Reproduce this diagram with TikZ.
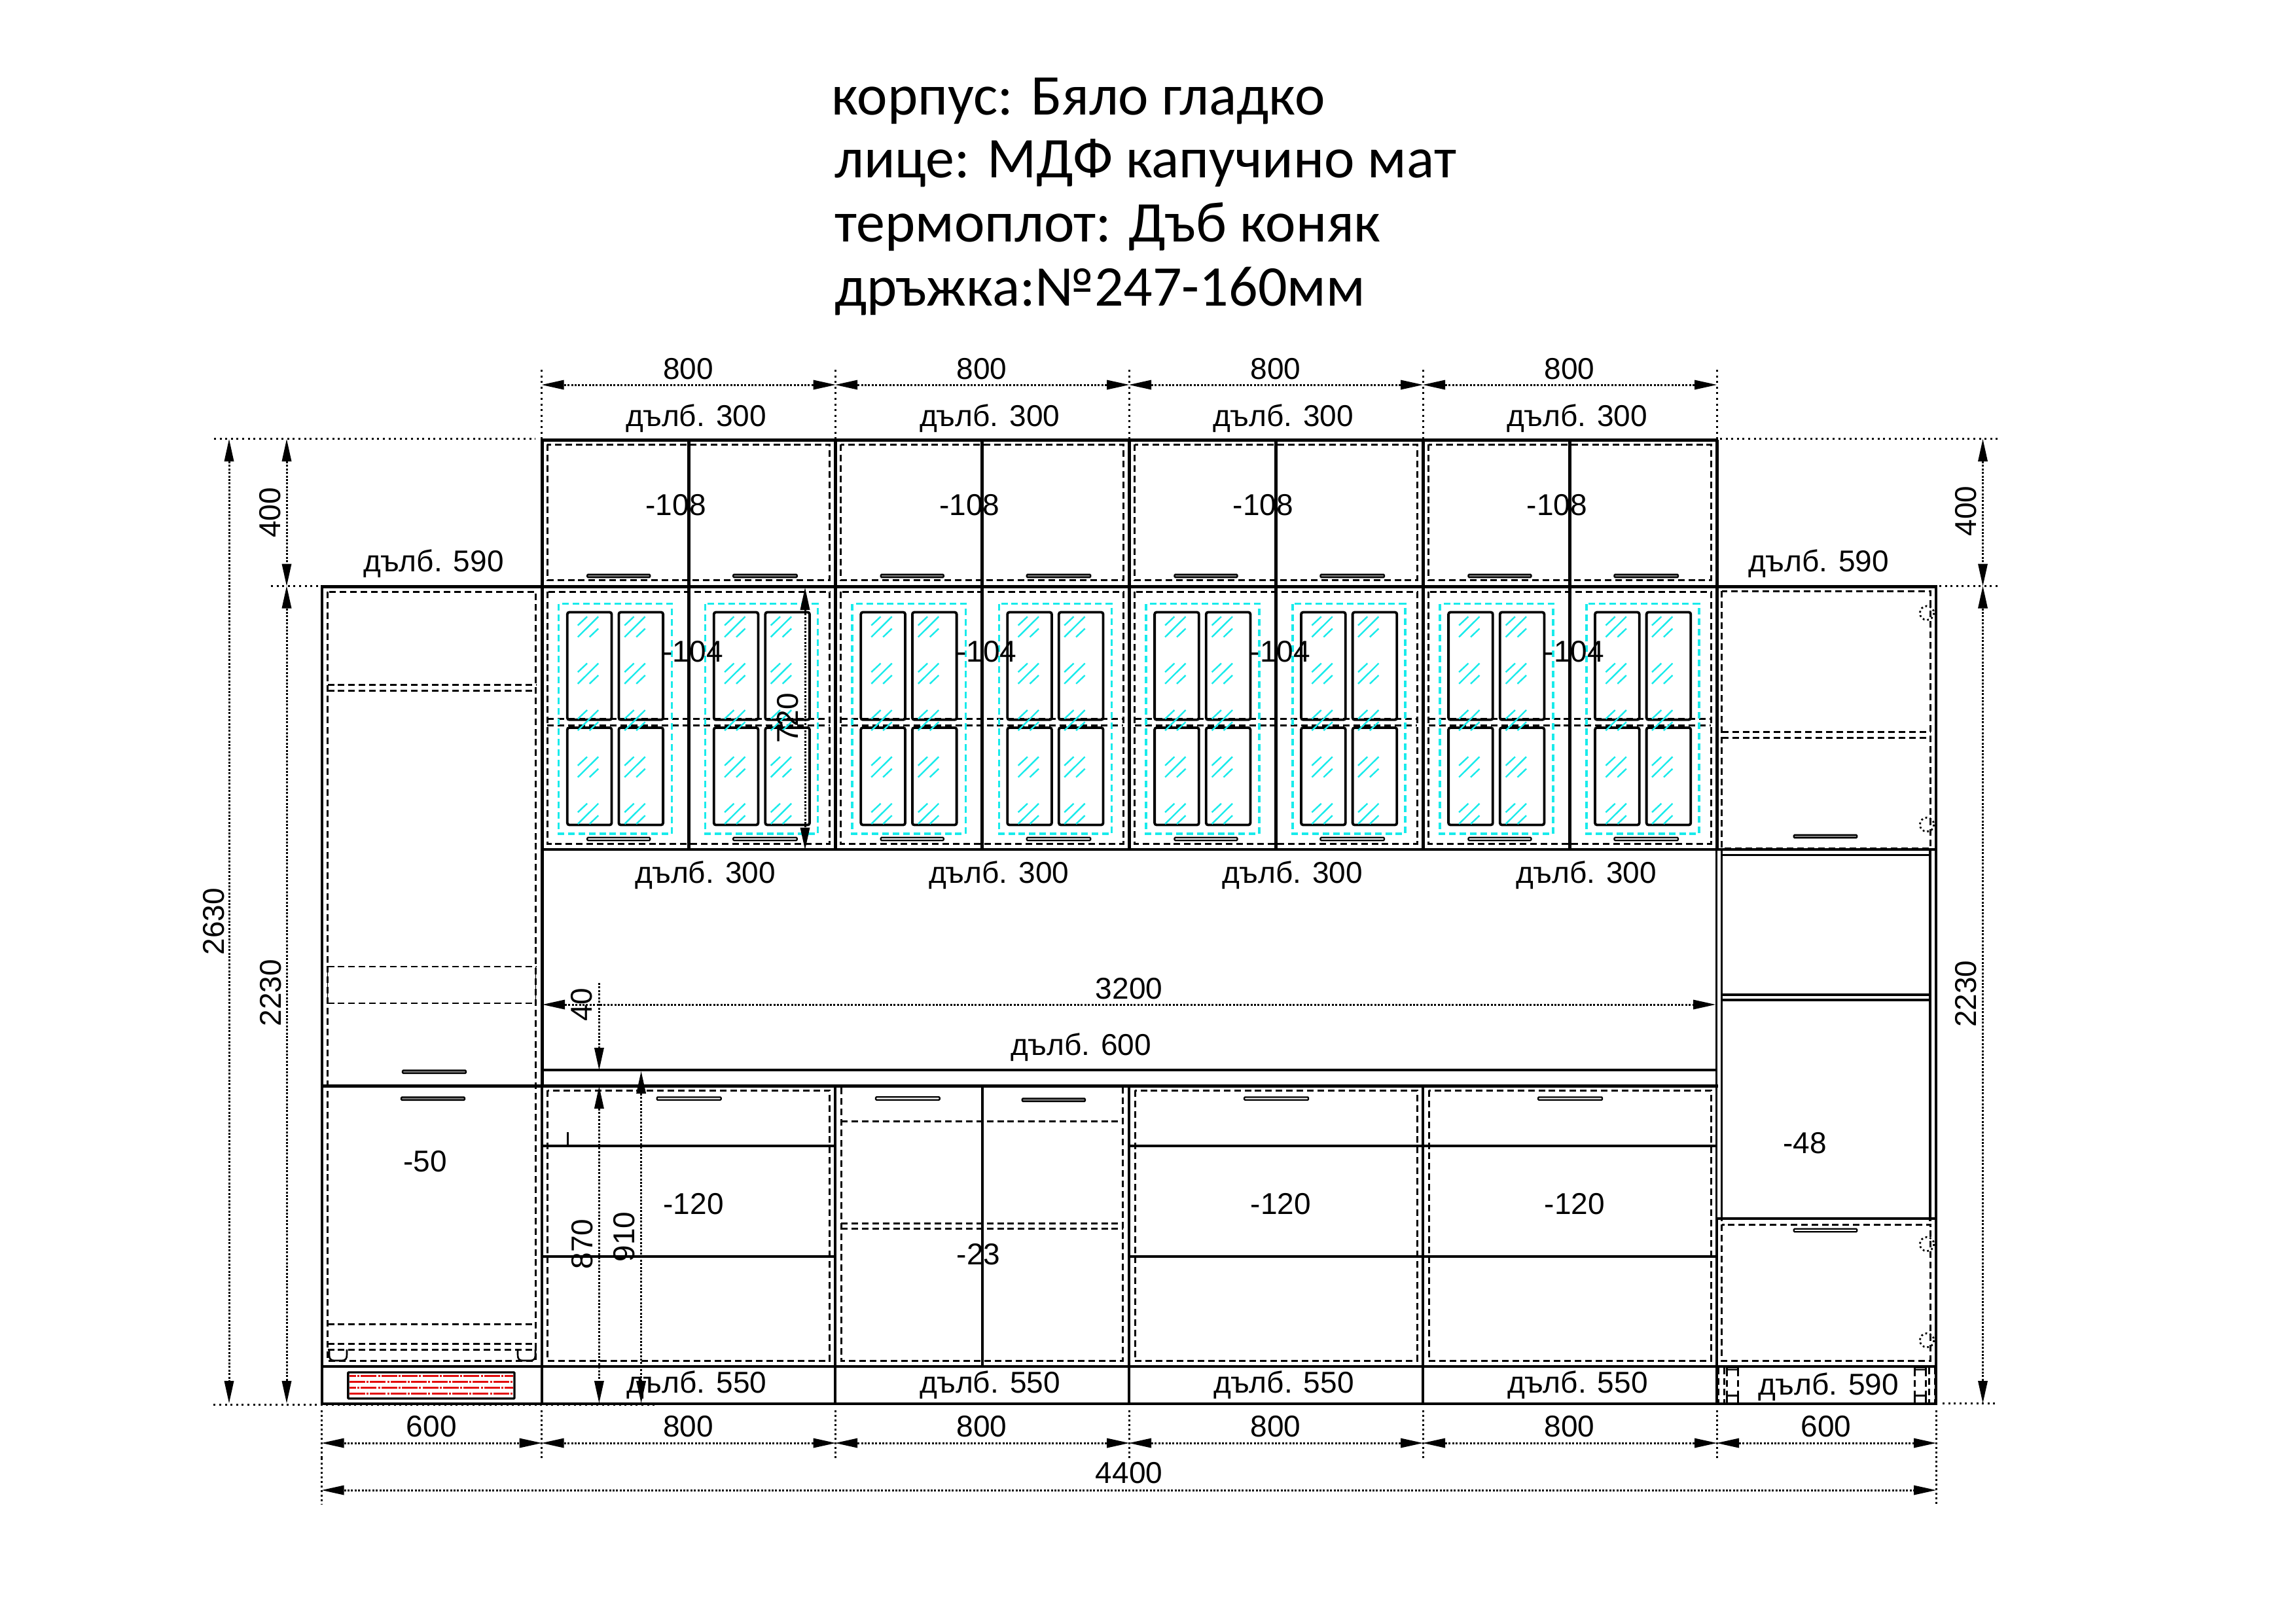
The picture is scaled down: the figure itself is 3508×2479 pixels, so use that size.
\documentclass[tikz,border=0pt]{standalone}
\usepackage{fontspec}
\setmainfont{Liberation Sans}
\newfontfamily\titlef{Carlito}
\usetikzlibrary{arrows.meta}
\definecolor{cyanline}{HTML}{19EBEB}
\definecolor{redline}{HTML}{E30B0B}
\tikzset{
  thick line/.style={line width=5pt,line cap=butt},
  main line/.style={line width=4pt,line cap=butt},
  thin line/.style={line width=2.6pt,line cap=butt},
  hid/.style={line width=3pt,dash pattern=on 10pt off 5.9pt,line cap=butt},
  cy/.style={color=cyanline,line width=3.4pt,dash pattern=on 10pt off 5.9pt},
  hat/.style={color=cyanline,line width=2.4pt},
  pane/.style={line width=3.8pt,rounded corners=3pt},
  hnd/.style={line width=2.3pt,rounded corners=1.2pt},
  ext/.style={line width=3pt,dash pattern=on 3pt off 5.6pt},
  dimension/.style={line width=3pt,dash pattern=on 3pt off 2.4pt,
     {Triangle[length=34pt,width=15pt,line width=0pt]}-{Triangle[length=34pt,width=15pt,line width=0pt]}},
  lab/.style={inner sep=0pt,font=\fontsize{46}{50}\selectfont},
  ttl/.style={inner sep=0pt,anchor=base west,font=\titlef\fontsize{88}{94}\selectfont},
  redrow/.style={color=redline,line width=3.6pt,dash pattern=on 24pt off 2.2pt on 3pt off 2.2pt},
  hinge/.style={line width=2.8pt,dash pattern=on 2.8pt off 4pt},
}
\newcommand\hndl[4]{\draw[hnd,fill=#4] (#1,{#3-2.2}) rectangle (#2,{#3+2.2});}
\begin{document}
\begin{tikzpicture}[x=1pt,y=-1pt]
\useasboundingbox (0,0) rectangle (3508,2479);
\fill[white] (0,0) rectangle (3508,2479);

% title
\node[ttl] (t1) at (1270,175) {корпус: Бяло гладко};
\node[ttl] (t2) at (1275,271) {лице: МДФ капучино мат};
\node[ttl] (t3) at (1275,369) {термоплот: Дъб коняк};
\node[ttl] (t4) at (1275,467) {дръжка:№247-160мм};

% hidden lines, tall left column
\draw[hid] (500.5,904) rectangle (818.6,2079);
\draw[hid] (500.5,1046.8) -- (818.6,1046.8) (500.5,1055.6) -- (818.6,1055.6);
\draw[hid,line width=2.6pt] (500.5,1477) -- (818.6,1477) (500.5,1533) -- (818.6,1533);
\draw[thin line,line width=1.6pt] (500.5,1477) -- (500.5,1533) (818.6,1477) -- (818.6,1533);
\draw[hid] (500.5,2023) -- (818.6,2023) (500.5,2053) -- (818.6,2053);
\draw[hid,line width=2.6pt] (500.5,2062.5) -- (818.6,2062.5);
\draw[thin line] (503,2062) -- (503,2070) .. controls (503,2076) and (505,2079) .. (511,2079) -- (522,2079) .. controls (528,2079) and (530,2076) .. (530,2070) -- (530,2062);
\draw[thin line] (791,2062) -- (791,2070) .. controls (791,2076) and (793,2079) .. (799,2079) -- (810,2079) .. controls (816,2079) and (818,2076) .. (818,2070) -- (818,2062);
\hndl{615}{712}{1637.7}{gray}
\hndl{613}{710}{1678.7}{gray}

% wall units
\foreach \B [count=\i] in {827.7,1276.2,1725,2174}{
\begin{scope}[xshift=\B pt]
  \draw[hid] (8.7,679) rectangle (440,886.4);
  \draw[hid] (8.7,904) rectangle (440,1289.5);
  \draw[hid] (8.7,1098.5) -- (440,1098.5) (8.7,1108) -- (440,1108);
  \draw[cy] (25.8,922.6) rectangle (199,1274);
  \draw[cy] (250,922.6) rectangle (422,1274);
  \foreach \px in {39.1,117.7,263,341.6}{
    \draw[pane] (\px,935.5) rectangle ({\px+67.7},1099.8);
    \draw[pane] (\px,1111.9) rectangle ({\px+67.7},1260.5);
  }
  \foreach \hx in {55.1,126.6,279.4,350}{
    \foreach \hy in {942.2,1013.6,1085,1156.4,1227.8}{
      \draw[hat] (\hx,{\hy+13.4}) -- ({\hx+14.3},\hy);
      \draw[hat] (\hx,{\hy+31.2}) -- ({\hx+31.4},\hy);
      \draw[hat] ({\hx+17.9},{\hy+31.2}) -- ({\hx+31.4},{\hy+18.3});
    }
  }
  \hndl{69.5}{165.5}{880}{gray}
  \hndl{292.5}{390}{880}{gray}
  \hndl{69.5}{165.5}{1282}{white}
  \hndl{292.5}{390}{1282}{white}
  \draw[thick line] (224.5,672) -- (224.5,1298);
  \node[lab] (w108\i) at (205,772) {-108};
  \node[lab] (w104\i) at (231,996) {-104};
  \node[lab] (ws300\i) at (250,1337) {дълб. 300};
  \node[lab] (wt300\i) at (236,639) {дълб. 300};
  \node[lab] (wd800\i) at (224,564) {800};
  \node[lab] (bd800\i) at (224,2180) {800};
  \node[lab] (pl550\i) at (236.5,2116) {дълб. 550};
  \draw[dimension] (0,588) -- (449,588);
  \draw[dimension] (0,2205) -- (449,2205);
  \draw[ext] (0,565) -- (0,670);
  \draw[ext] (449,565) -- (449,670);
\end{scope}
}

% base units
\foreach \B/\j in {827.7/1,1725/3,2174/4}{
\begin{scope}[xshift=\B pt]
  \draw[hid] (9,1666) rectangle (440,2079);
  \draw[thick line,line width=4.2pt] (0,1751) -- (449,1751) (0,1919.6) -- (449,1919.6);
  \hndl{176}{274}{1678.6}{white}
  \node[lab] (b120\j) at (232,1840) {-120};
\end{scope}
}
\draw[line width=2.6pt] (867.6,1729.5) -- (867.6,1749.6);
% bay 2
\draw[hid] (1285,1662) -- (1285,2079) -- (1715.7,2079) -- (1715.7,1662);
\draw[hid] (1285,1713) -- (1715.7,1713);
\draw[hid] (1285,1869) -- (1715.7,1869) (1285,1877.5) -- (1715.7,1877.5);
\draw[thick line,line width=4.2pt] (1500.7,1659) -- (1500.7,2088);
\hndl{1338}{1435.7}{1678.5}{white}
\hndl{1561.7}{1658}{1680.7}{gray}
\node[lab] (b23) at (1495,1916.5) {-23};

% tall right column
\draw[hid] (2630.7,903.3) rectangle (2949,1296.7);
\draw[hid] (2630.7,1118.3) -- (2949,1118.3) (2630.7,1127.3) -- (2949,1127.3);
\draw[hid] (2630.7,1871) rectangle (2949,2079.3);
\draw[thin line,line width=3.2pt] (2630.7,1298) -- (2630.7,1866) (2949,1298) -- (2949,1866);
\draw[thin line,line width=3.2pt] (2630.7,1306.5) -- (2949,1306.5) (2630.7,1520) -- (2949,1520) (2630.7,1528) -- (2949,1528);
\draw[main line] (2623,1861.6) -- (2958,1861.6);
\hndl{2740.7}{2837.3}{1278}{gray}
\hndl{2740.7}{2837.3}{1880}{white}
\foreach \hy in {936.7,1260,1901,2048}{ \draw[hinge] (2944,\hy) circle (10.7); }
% right plinth legs
\draw[hid] (2625.5,2090) -- (2625.5,2144) (2634,2090) -- (2634,2144) (2947,2090) -- (2947,2144) (2956,2090) -- (2956,2144);
\foreach \lx in {2638.5,2925.5}{
  \draw[thin line] (\lx,2090) rectangle ({\lx+17},2093);
  \draw[thin line] (\lx,2132.7) rectangle ({\lx+17},2144);
  \draw[hid] (\lx,2093) -- (\lx,2132) ({\lx+17},2093) -- ({\lx+17},2132);
}

% carcase
\draw[thick line] (826,672) -- (2625.3,672);
\draw[thick line] (489.8,896) -- (2960,896);
\draw[thick line] (489.8,1659) -- (2625,1659);
\draw[main line] (828,1298) -- (2958,1298);
\draw[main line] (828,1635) -- (2623,1635);
\draw[main line] (491.6,896) -- (491.6,2144.5);
\draw[thick line] (828,672) -- (828,1659);
\draw[main line] (828,1659) -- (828,2144.5);
\draw[thick line] (1276.2,672) -- (1276.2,1298) (1725,672) -- (1725,1298) (2174,672) -- (2174,1298) (2623,672) -- (2623,1298);
\draw[thick line,line width=4.4pt] (1276.2,1659) -- (1276.2,2088) (1725,1659) -- (1725,2088) (2174,1659) -- (2174,2088);
\draw[main line] (1276.2,2088) -- (1276.2,2144.5) (1725,2088) -- (1725,2144.5) (2174,2088) -- (2174,2144.5);
\draw[thin line,line width=3.2pt] (2622.5,1298) -- (2622.5,1862);
\draw[thick line,line width=4.4pt] (2623,1862) -- (2623,2144.5);
\draw[thick line,line width=4.4pt] (2958,896) -- (2958,2144.5);
\draw[main line] (489.8,2088) -- (2958,2088);
\draw[main line] (489.8,2144.5) -- (2960,2144.5);

% toe-kick grille
\draw[line width=3.4pt,rounded corners=1pt,fill=white] (531.8,2097) rectangle (786,2137);
\draw[redrow,dash phase=14pt] (534,2102.3) -- (784,2102.3);
\draw[redrow] (534,2111.3) -- (784,2111.3);
\draw[redrow,dash phase=14pt] (534,2120.3) -- (784,2120.3);
\draw[redrow] (534,2129.3) -- (784,2129.3);

% dimension lines
\draw[ext] (327,670.6) -- (818,670.6);
\draw[ext] (414,895) -- (486,895);
\draw[ext] (326.4,2146) -- (1002,2146);
\draw[ext] (2628,670.6) -- (3053,670.6);
\draw[ext] (2963,895) -- (3053,895);
\draw[ext] (2968,2144.5) -- (3053,2144.5);
\foreach \ex in {491.6,827.7,1276.2,1725,2174,2623}{ \draw[ext,dash pattern=on 3pt off 4pt] (\ex,2155) -- (\ex,2228); }
\draw[ext,dash pattern=on 3pt off 4pt] (2958,2155) -- (2958,2299);
\draw[ext,dash pattern=on 3pt off 4pt] (491.6,2228) -- (491.6,2299);
\draw[dimension] (350,671) -- (350,2144);
\draw[dimension] (438,671) -- (438,895.5);
\draw[dimension] (438,895.5) -- (438,2144);
\draw[dimension] (3029.5,671) -- (3029.5,895.5);
\draw[dimension] (3029.5,895.5) -- (3029.5,2144);
\draw[dimension] (491.6,2205) -- (827.7,2205);
\draw[dimension] (2623,2205) -- (2958,2205);
\draw[dimension] (491.6,2277) -- (2958,2277);
\draw[dimension] (829,1535) -- (2621,1535);
\draw[dimension] (1230,898) -- (1230,1298.5);
% 40 / 870 / 910
\draw[line width=3pt,dash pattern=on 3pt off 2.4pt,-{Triangle[length=34pt,width=15pt,line width=0pt]}] (915.4,1502) -- (915.4,1635);
\draw[dimension] (915.4,1660) -- (915.4,2144);
\draw[dimension] (979.6,1637) -- (979.6,2144);

% labels
\node[lab,rotate=90] (v2630) at (326.6,1408) {2630};
\node[lab,rotate=90] (v2230l) at (414,1517) {2230};
\node[lab,rotate=90] (v400l) at (412.5,783.5) {400};
\node[lab,rotate=90] (v400r) at (3004,781) {400};
\node[lab,rotate=90] (v2230r) at (3004,1518.8) {2230};
\node[lab,rotate=90] (v720) at (1204,1097.6) {720};
\node[lab,rotate=90] (v40) at (889,1535) {40};
\node[lab,rotate=90] (v870) at (889.4,1901) {870};
\node[lab,rotate=90] (v910) at (953.7,1890) {910};
\node[lab] (d590l) at (662.5,861) {дълб. 590};
\node[lab] (d590r) at (2779,861) {дълб. 590};
\node[lab] (d590p) at (2794,2119) {дълб. 590};
\node[lab] (d600) at (1652,1600) {дълб. 600};
\node[lab] (d3200) at (1725,1511) {3200};
\node[lab] (d50) at (649.4,1775) {-50};
\node[lab] (d48) at (2757.5,1747) {-48};
\node[lab] (d600l) at (659.3,2180) {600};
\node[lab] (d600r) at (2790,2180) {600};
\node[lab] (d4400) at (1725,2251) {4400};
\end{tikzpicture}
\end{document}
